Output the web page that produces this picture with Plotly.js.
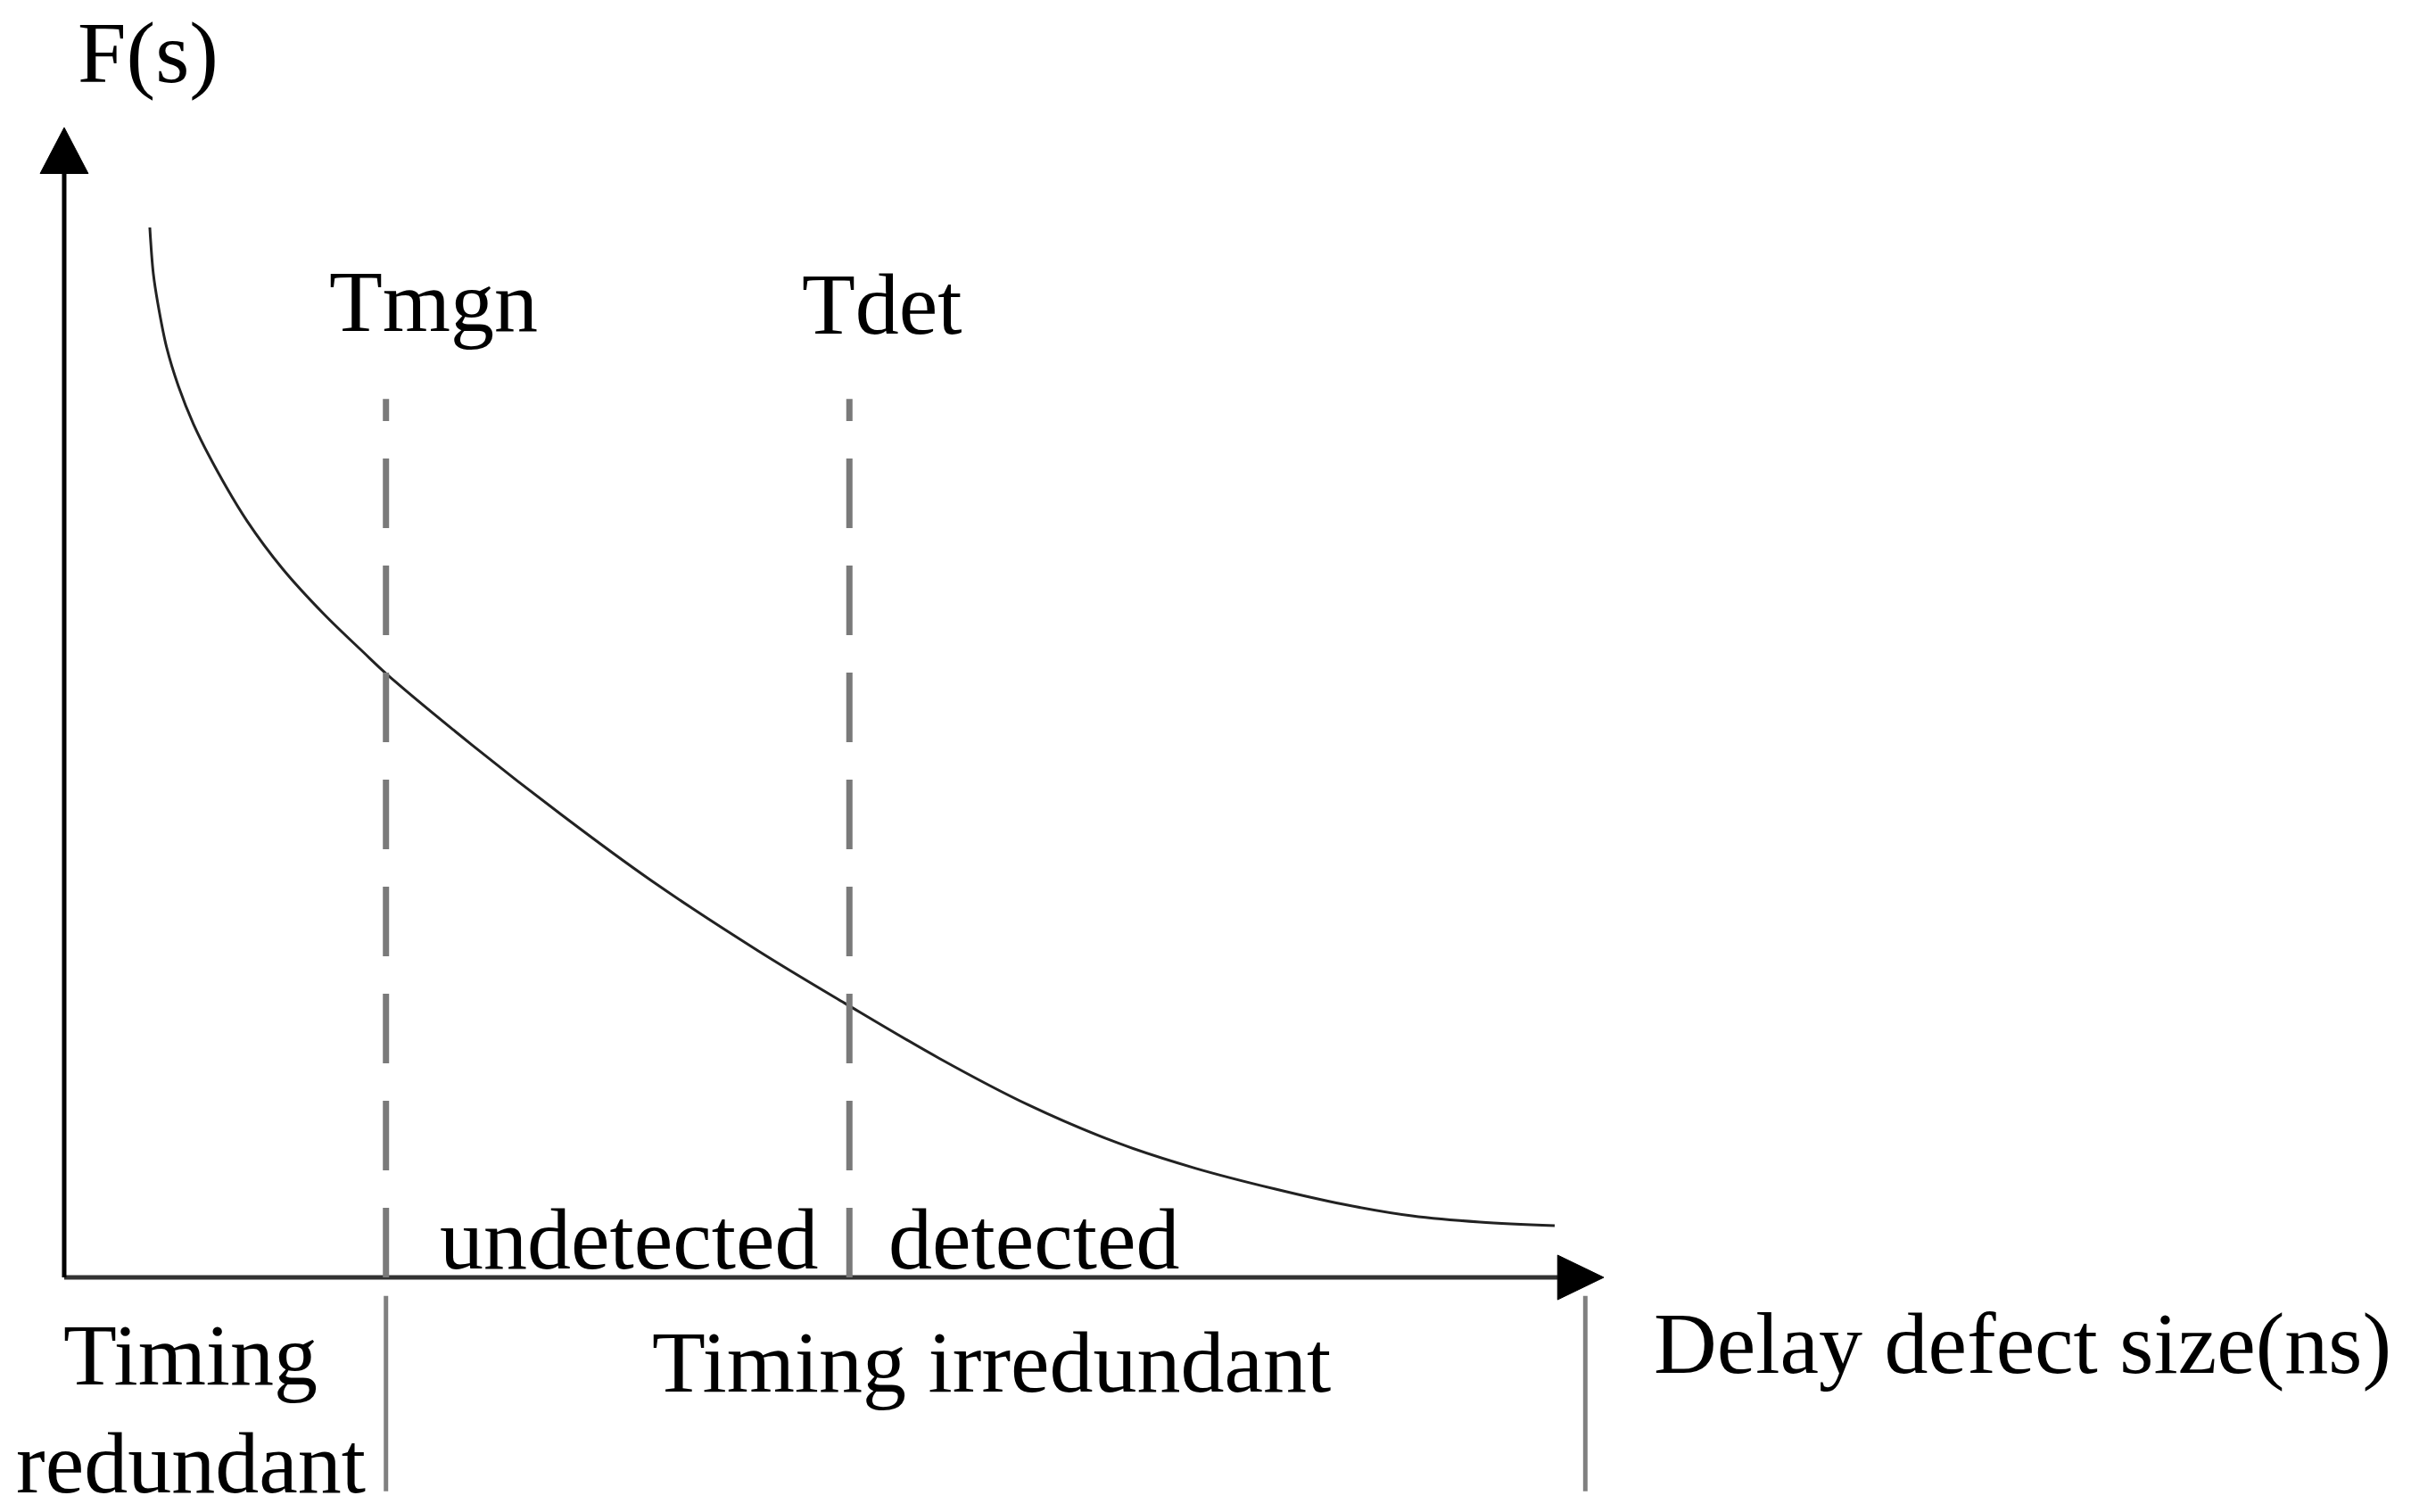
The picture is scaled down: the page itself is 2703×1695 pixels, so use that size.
<!DOCTYPE html>
<html>
<head>
<meta charset="utf-8">
<script src="https://cdn.plot.ly/plotly-3.0.1.min.js"></script>
<style>
  html, body { margin: 0; padding: 0; background: #fff; }
  #chart { width: 2703px; height: 1695px; }
</style>
</head>
<body>
<div id="chart"></div>
<script>
// F(s) curve (x: delay defect size, y: F(s), arbitrary units 0..10)
const curveX = [0.556, 0.579, 0.608, 0.666, 0.742, 0.840, 0.991, 1.188, 1.419, 1.686, 1.941,
  2.092, 2.654, 3.233, 3.812, 4.508, 5.070, 5.684, 6.263, 6.842, 7.346, 7.868, 8.308, 8.754,
  9.195, 9.681];
const curveY = [9.131, 8.728, 8.472, 8.084, 7.750, 7.420, 7.021, 6.578, 6.162, 5.770, 5.440,
  5.250, 4.625, 4.020, 3.452, 2.840, 2.385, 1.905, 1.500, 1.170, 0.950, 0.768, 0.636, 0.535,
  0.481, 0.450];

const thresholdNames = ['Tmgn', 'Tdet'];
const thresholdX = [2.09, 5.10];
const boundaryX = [2.09, 9.88];          // solid separators under the axis
const zoneLabels = ['undetected', 'detected'];
const bandLabels = ['Timing', 'redundant', 'Timing irredundant'];
const axisNames = ['F(s)', 'Delay defect size(ns)'];

const AXIS_END = 10;                     // arrow tips on both axes
const FONT = { family: 'Liberation Serif, Times New Roman, serif', size: 98, color: '#000' };

function label(text, x, y) {
  return { text, x, y, xref: 'x', yref: 'y', showarrow: false,
    xanchor: 'center', yanchor: 'middle', font: FONT };
}

const shapes = [
  // axes
  { type: 'line', x0: 0, x1: 9.70, y0: 0, y1: 0, line: { color: '#333', width: 5 } },
  { type: 'line', x0: 0, x1: 0, y0: 0, y1: 9.60, line: { color: '#000', width: 5 } },
  { type: 'path', path: `M ${AXIS_END - 0.30},0.194 L ${AXIS_END},0 L ${AXIS_END - 0.30},-0.194 Z`,
    fillcolor: '#000', line: { color: '#000', width: 1 } },
  { type: 'path', path: `M -0.156,${AXIS_END - 0.40} L 0,${AXIS_END} L 0.156,${AXIS_END - 0.40} Z`,
    fillcolor: '#000', line: { color: '#000', width: 1 } },
];

// dashed threshold lines, drawn from the axis upward so the pattern starts at the axis
thresholdX.forEach((x) => {
  shapes.push({ type: 'line', x0: x, x1: x, y0: 0, y1: 7.64,
    line: { color: '#7a7a7a', width: 7, dash: '78px,42px' } });
});
boundaryX.forEach((x) => {
  shapes.push({ type: 'line', x0: x, x1: x, y0: -0.16, y1: -1.86,
    line: { color: '#808080', width: 5 } });
});

const annotations = [
  label(axisNames[0], 0.545, 10.65),
  label(axisNames[1], 12.72, -0.57),
  label(thresholdNames[0], 2.40, 8.49),
  label(thresholdNames[1], 5.31, 8.46),
  label(zoneLabels[0], 3.67, 0.33),
  label(zoneLabels[1], 6.30, 0.33),
  label(bandLabels[0], 0.82, -0.675),
  label(bandLabels[1], 0.82, -1.61),
  label(bandLabels[2], 6.02, -0.74),
];

const trace = {
  x: curveX, y: curveY, type: 'scatter', mode: 'lines',
  line: { color: '#222', width: 3, shape: 'spline', smoothing: 1 },
  hoverinfo: 'skip', showlegend: false,
};

const layout = {
  width: 2703, height: 1695,
  margin: { l: 0, r: 0, t: 0, b: 0 },
  xaxis: { range: [-0.417, 15.243], visible: false, fixedrange: true },
  yaxis: { range: [-2.040, 11.109], visible: false, fixedrange: true },
  plot_bgcolor: '#fff',
  paper_bgcolor: '#fff',
  shapes, annotations,
  showlegend: false,
};

Plotly.newPlot('chart', [trace], layout, { displayModeBar: false, staticPlot: true });
</script>
</body>
</html>
